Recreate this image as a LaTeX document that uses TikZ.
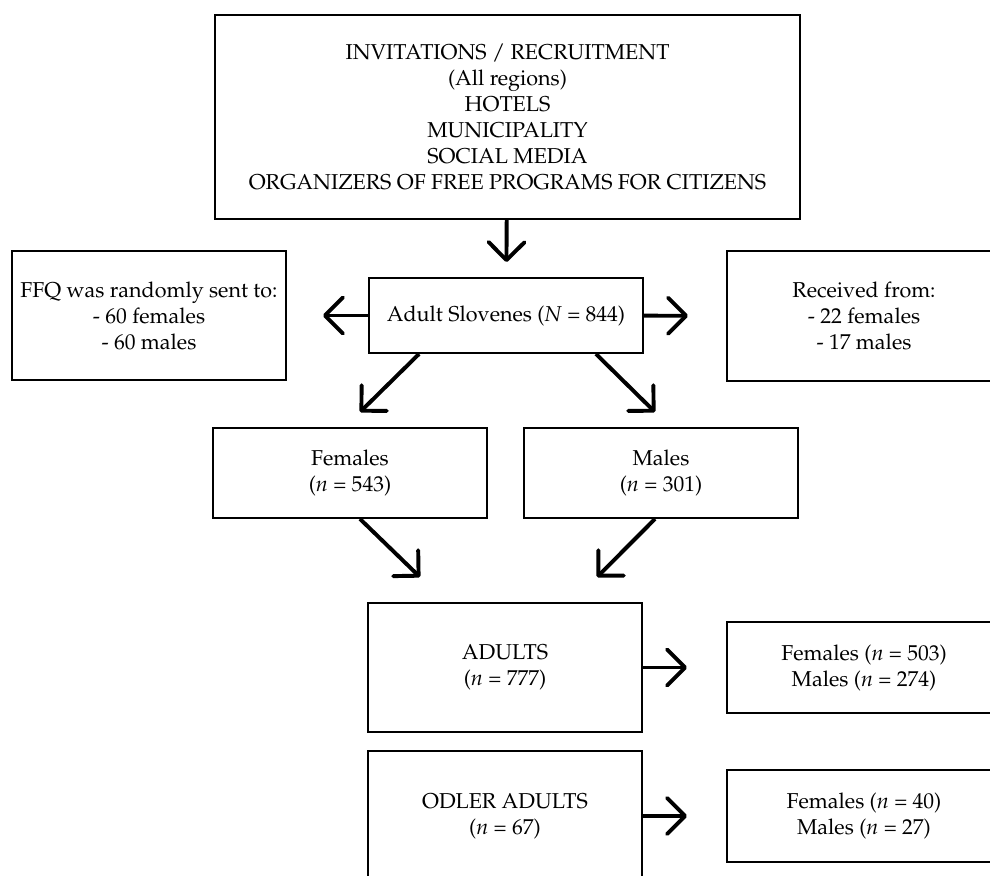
\documentclass[tikz,border=0pt]{standalone}
\usepackage[T1]{fontenc}
\usepackage{mathpazo}
\usetikzlibrary{arrows.meta}
\usetikzlibrary{calc}

\begin{document}
\begin{tikzpicture}[x=0.025cm,y=-0.025cm,>={Straight Barb[length=0.45cm,width=0.9cm,round]},
  box node/.style={rectangle,draw,line width=1.3pt,align=center,minimum width=6.85cm,font=\fontsize{15.3}{18.5}\selectfont},
  flow/.style={->,line width=2.8pt}]

  \useasboundingbox (0,0) rectangle (990,875);
  \clip (0,0) rectangle (990,875);

  \node[box node,minimum width=14.625cm,minimum height=5.1cm] (invite) at (507.5,117) {INVITATIONS / RECRUITMENT\\(All regions)\\HOTELS\\MUNICIPALITY\\SOCIAL MEDIA\\ORGANIZERS OF FREE PROGRAMS FOR CITIZENS};
  \node[box node,minimum height=1.875cm] (slov) at (506,315.5) {Adult Slovenes (\textit{N} = 844)};
  \node[box node,minimum height=3.225cm] (ffq) at (149,315.5) {FFQ was randomly sent to:\\- 60 females\\- 60 males};
  \node[box node,minimum height=3.25cm] (recv) at (864,316) {Received from:\\- 22 females\\- 17 males};
  \node[box node,minimum height=2.25cm] (fem) at (350,473) {Females\\(\textit{n} = 543)};
  \node[box node,minimum height=2.25cm] (male) at (661,473) {Males\\(\textit{n} = 301)};
  \node[box node,minimum height=3.225cm] (adults) at (505,667.5) {ADULTS\\(\textit{n} = 777)};
  \node[box node,minimum height=2.275cm] (adultsex) at (864,667.5) {Females (\textit{n} = 503)\\Males (\textit{n} = 274)};
  \node[box node,minimum height=3.25cm] (older) at (505,816) {ODLER ADULTS\\(\textit{n} = 67)};
  \node[box node,minimum height=2.3cm] (oldersex) at (864,816) {Females (\textit{n} = 40)\\Males (\textit{n} = 27)};

  \path[flow]
    (invite) edge[shorten >=0.375cm] (slov)
    (slov) edge[shorten >=0.9cm] (ffq)
           edge[shorten >=0.95cm] (recv)
    ($(slov.south west)+(51,0)$) edge ($(fem.north)+(10,-15)$)
    ($(slov.south east)+(-48,0)$) edge ($(male.north)+(-6,-15)$)
    ($(fem.south)+(10,0)$) edge ($(adults.north)+(-85,-25)$)
    ($(male.south)+(-6,0)$) edge ($(adults.north)+(92,-25)$)
    (adults) edge[shorten >=0.975cm] (adultsex)
    (older) edge[shorten >=0.975cm] (oldersex);

\end{tikzpicture}
\end{document}
